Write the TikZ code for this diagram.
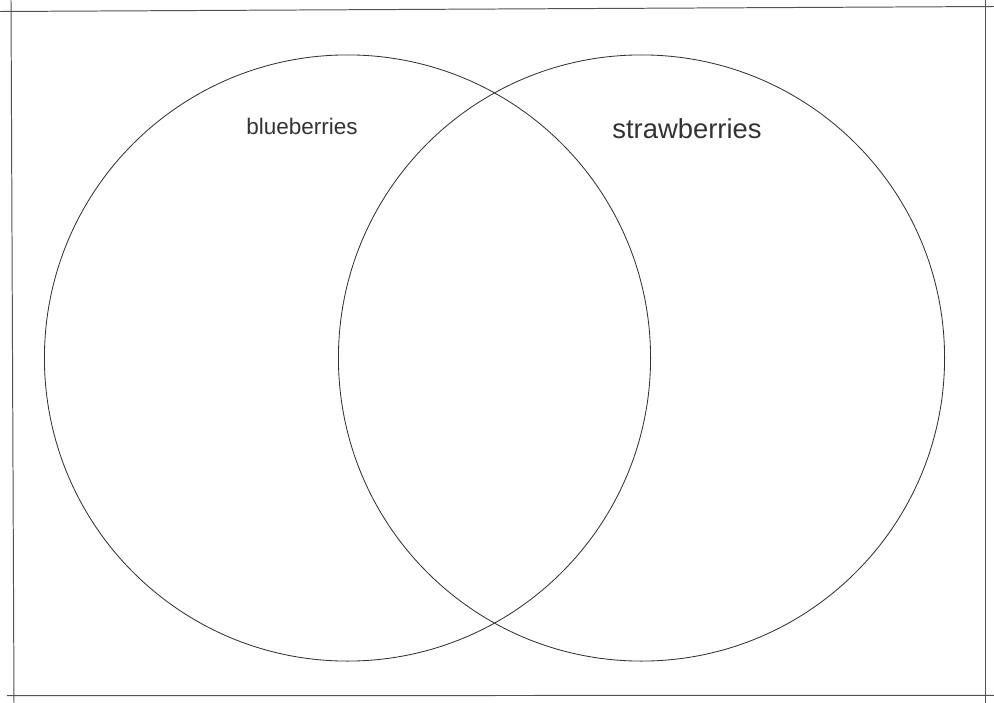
\documentclass[tikz,border=0pt]{standalone}
\usepackage{fontspec}
\setmainfont{Liberation Sans}
\usepackage{tikz}
\definecolor{inkgrey}{HTML}{333333}

\begin{document}
\begin{tikzpicture}[x=0.025cm,y=-0.025cm,
  ring/.style={circle,draw=inkgrey,line width=0.6pt,minimum size=15.15cm,inner sep=0pt},
  lbl/.style={text=inkgrey,inner sep=0pt},
  edge/.style={draw=inkgrey!85,line width=0.7pt}]
\useasboundingbox (0,0) rectangle (994,703);

% frame
\draw[edge] (0,11.5) -- (994,6.5); \draw[edge] (7,695.7) -- (994,695.3);
\draw[edge] (11,0) -- (14,703); \draw[edge] (985.7,0) -- (985.7,703);

% sets
\node[ring](blue) at (347.5,358){}; \node[ring](straw) at (641.5,358){};
\node[lbl,font=\fontsize{16}{18}\selectfont] (bluelbl) at (302,126){blueberries};
\node[lbl,font=\fontsize{19.5}{22}\selectfont] (strawlbl) at (687,129){strawberries};
\end{tikzpicture}
\end{document}
